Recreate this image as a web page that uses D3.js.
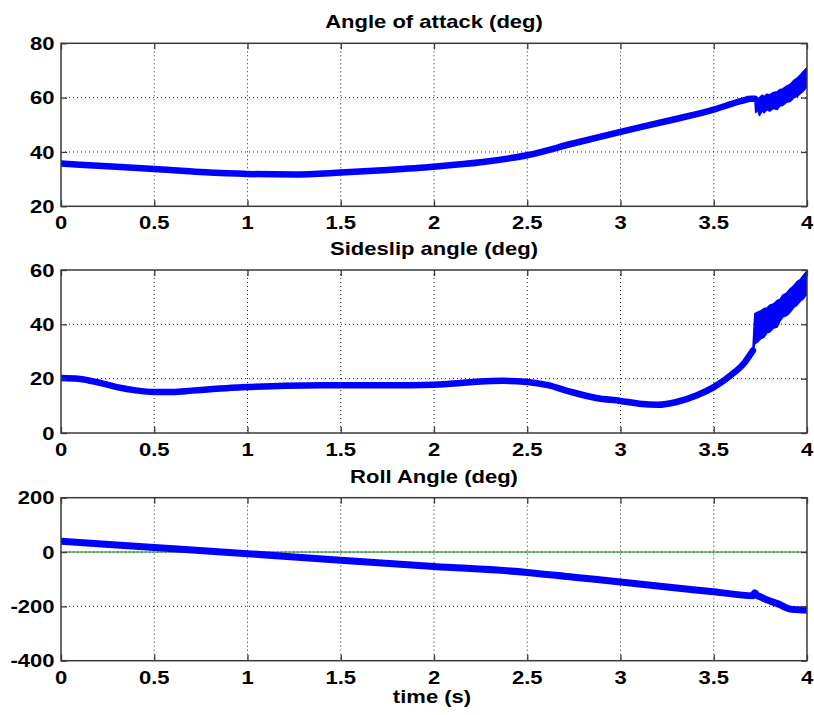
<!DOCTYPE html>
<html><head><meta charset="utf-8">
<script src="https://cdn.jsdelivr.net/npm/d3@7/dist/d3.min.js"></script>
<style>body{margin:0;background:#fff}svg{display:block}</style>
</head><body><svg id="c" width="814" height="715"></svg>
<script>
// ---- data ----
const timeTicks = [0, 0.5, 1, 1.5, 2, 2.5, 3, 3.5, 4];
const alphaTicks = [20, 40, 60, 80];
const betaTicks = [0, 20, 40, 60];
const phiTicks = [-400, -200, 0, 200];
const titles = ["Angle of attack (deg)", "Sideslip angle (deg)", "Roll Angle (deg)"];
const xLabel = "time (s)";

const alphaT = [0, 0.1, 0.25, 0.5, 0.75, 1.0, 1.25, 1.5, 1.75, 2.0, 2.25, 2.5, 2.75, 3.0, 3.25, 3.5, 3.65, 3.70, 3.72];
const alphaV = [35.8, 35.3, 34.7, 33.7, 32.6, 31.9, 31.7, 32.4, 33.4, 34.6, 36.2, 38.8, 43.2, 47.4, 51.4, 55.6, 58.8, 59.6, 59.6];
const alphaOscT = [3.72, 3.725, 3.735, 3.745, 3.76, 3.77, 3.785, 3.80, 3.82, 3.84, 3.855, 3.87, 3.89, 3.91, 3.93, 3.95, 3.965, 3.98, 4.0];
const alphaOscHi = [59.8, 60.2, 59.6, 60.0, 60.9, 60.4, 61.3, 61.0, 61.9, 62.2, 63.0, 63.2, 64.2, 64.9, 66.4, 67.4, 68.4, 69.6, 71.0];
const alphaOscLo = [59.4, 54.5, 55.6, 53.4, 55.2, 54.4, 55.6, 55.0, 56.0, 55.6, 57.0, 57.1, 58.3, 58.6, 60.0, 60.5, 61.6, 62.4, 64.0];

const betaT = [0, 0.1, 0.2, 0.3, 0.4, 0.5, 0.6, 0.7, 0.8, 0.9, 1.0, 1.2, 1.4, 1.75, 2.0, 2.16, 2.25, 2.37, 2.5, 2.61, 2.73, 2.87, 3.0, 3.1, 3.2, 3.3, 3.41, 3.5, 3.59, 3.66, 3.71];
const betaV = [20.2, 19.9, 18.6, 16.9, 15.7, 15.1, 15.1, 15.6, 16.1, 16.6, 16.9, 17.4, 17.6, 17.6, 17.8, 18.5, 19.0, 19.2, 18.8, 17.6, 15.2, 12.9, 11.8, 10.8, 10.4, 11.4, 13.9, 16.9, 21.2, 25.5, 30.4];
const betaOscT = [3.71, 3.72, 3.735, 3.75, 3.77, 3.785, 3.80, 3.82, 3.84, 3.855, 3.87, 3.89, 3.91, 3.93, 3.945, 3.965, 3.98, 4.0];
const betaOscHi = [31.0, 43.9, 44.5, 44.9, 45.8, 46.0, 47.0, 47.5, 48.8, 49.2, 50.7, 51.5, 53.1, 54.3, 55.6, 56.6, 58.0, 59.6];
const betaOscLo = [29.8, 32.9, 33.5, 34.6, 35.3, 36.9, 37.2, 38.6, 39.0, 41.2, 42.7, 43.2, 44.5, 46.3, 47.0, 48.6, 49.4, 51.3];

const phiT = [0, 0.5, 1.0, 1.5, 2.0, 2.5, 2.75, 3.0, 3.25, 3.5, 3.71, 3.72, 3.73, 3.75, 3.78, 3.82, 3.86, 3.88, 3.91, 3.94, 3.97, 4.0];
const phiV = [40, 17, -6, -30, -53, -75, -93, -110, -129, -146, -161, -150, -158, -165, -175, -185, -195, -203, -210, -212, -213, -214];
const phiRef = [0, 0];
const phiRefT = [0, 4];

// ---- layout ----
const svg = d3.select("#c");
const L = 61, R = 807, H = 163;
const tops = [43.3, 270, 497.7];
const FONT = "'Liberation Sans', Arial, Helvetica, sans-serif";
const FS = 18.5, SX = 1.19;
const BLUE = "#0000ff", FRAME = "#3a3a3a";

const x = d3.scaleLinear().domain([0, 4]).range([L, R]);

function txt(g, s, tx, ty, anchor) {
  g.append("text")
    .attr("transform", `translate(${tx},${ty}) scale(${SX},1)`)
    .attr("text-anchor", anchor)
    .attr("font-family", FONT).attr("font-weight", "bold")
    .attr("font-size", FS).attr("fill", "#000")
    .text(s);
}

function panel(i, yTicks, title, draw) {
  const top = tops[i], bot = top + H;
  const y = d3.scaleLinear().domain([yTicks[0], yTicks[yTicks.length - 1]]).range([bot, top]);
  const g = svg.append("g");
  // grid
  g.selectAll(".gx").data(timeTicks.slice(1, -1)).join("line")
    .attr("x1", d => x(d)).attr("x2", d => x(d)).attr("y1", top).attr("y2", bot)
    .attr("stroke", "#222").attr("stroke-width", 1).attr("stroke-dasharray", "1,3");
  g.selectAll(".gy").data(yTicks.slice(1, -1)).join("line")
    .attr("y1", d => y(d)).attr("y2", d => y(d)).attr("x1", L).attr("x2", R)
    .attr("stroke", "#222").attr("stroke-width", 1).attr("stroke-dasharray", "1,3");
  // data
  const clip = "clip" + i;
  svg.append("clipPath").attr("id", clip).append("rect")
    .attr("x", L).attr("y", top).attr("width", R - L).attr("height", H);
  const dg = g.append("g").attr("clip-path", `url(#${clip})`);
  draw(dg, y);
  // tick marks (inward)
  const tickStyle = a => a.call(s => s.select(".domain").remove())
    .call(s => s.selectAll("line").attr("stroke", FRAME).attr("stroke-width", 1.3));
  g.append("g").attr("transform", `translate(0,${bot})`)
    .call(d3.axisBottom(x).tickValues(timeTicks).tickSize(-6).tickFormat("")).call(tickStyle);
  g.append("g").attr("transform", `translate(0,${top})`)
    .call(d3.axisTop(x).tickValues(timeTicks).tickSize(-6).tickFormat("")).call(tickStyle);
  g.append("g").attr("transform", `translate(${L},0)`)
    .call(d3.axisLeft(y).tickValues(yTicks).tickSize(-6).tickFormat("")).call(tickStyle);
  g.append("g").attr("transform", `translate(${R},0)`)
    .call(d3.axisRight(y).tickValues(yTicks).tickSize(-6).tickFormat("")).call(tickStyle);
  // frame
  g.append("rect").attr("x", L).attr("y", top).attr("width", R - L).attr("height", H)
    .attr("fill", "none").attr("stroke", FRAME).attr("stroke-width", 1.5);
  // labels
  timeTicks.forEach(v => txt(g, String(v), x(v), bot + 23, "middle"));
  yTicks.forEach(v => txt(g, String(v), L - 6.5, y(v) + 6.7, "end"));
  txt(g, title, (L + R) / 2, top - 15, "middle");
  return y;
}

function lineOf(dg, y, T, V, color, w) {
  const pts = T.map((t, k) => [t, V[k]]);
  dg.append("path").datum(pts)
    .attr("d", d3.line().x(d => x(d[0])).y(d => y(d[1])).curve(d3.curveMonotoneX))
    .attr("fill", "none").attr("stroke", color).attr("stroke-width", w)
    .attr("stroke-linejoin", "round").attr("stroke-linecap", "round");
}
function bandOf(dg, y, T, Hi, Lo) {
  const pts = T.map((t, k) => [t, Hi[k], Lo[k]]);
  dg.append("path").datum(pts)
    .attr("d", d3.area().x(d => x(d[0])).y0(d => y(d[2])).y1(d => y(d[1])))
    .attr("fill", BLUE).attr("stroke", BLUE).attr("stroke-width", 1.5).attr("stroke-linejoin", "round");
}

panel(0, alphaTicks, titles[0], (dg, y) => {
  lineOf(dg, y, alphaT, alphaV, BLUE, 6.5);
  bandOf(dg, y, alphaOscT, alphaOscHi, alphaOscLo);
});
panel(1, betaTicks, titles[1], (dg, y) => {
  lineOf(dg, y, betaT, betaV, BLUE, 6.5);
  bandOf(dg, y, betaOscT, betaOscHi, betaOscLo);
});
panel(2, phiTicks, titles[2], (dg, y) => {
  lineOf(dg, y, phiRefT, phiRef, "#008000", 1);
  lineOf(dg, y, phiT, phiV, BLUE, 7);
});
txt(svg, xLabel, 432, 703, "middle");
</script>
</body></html>
